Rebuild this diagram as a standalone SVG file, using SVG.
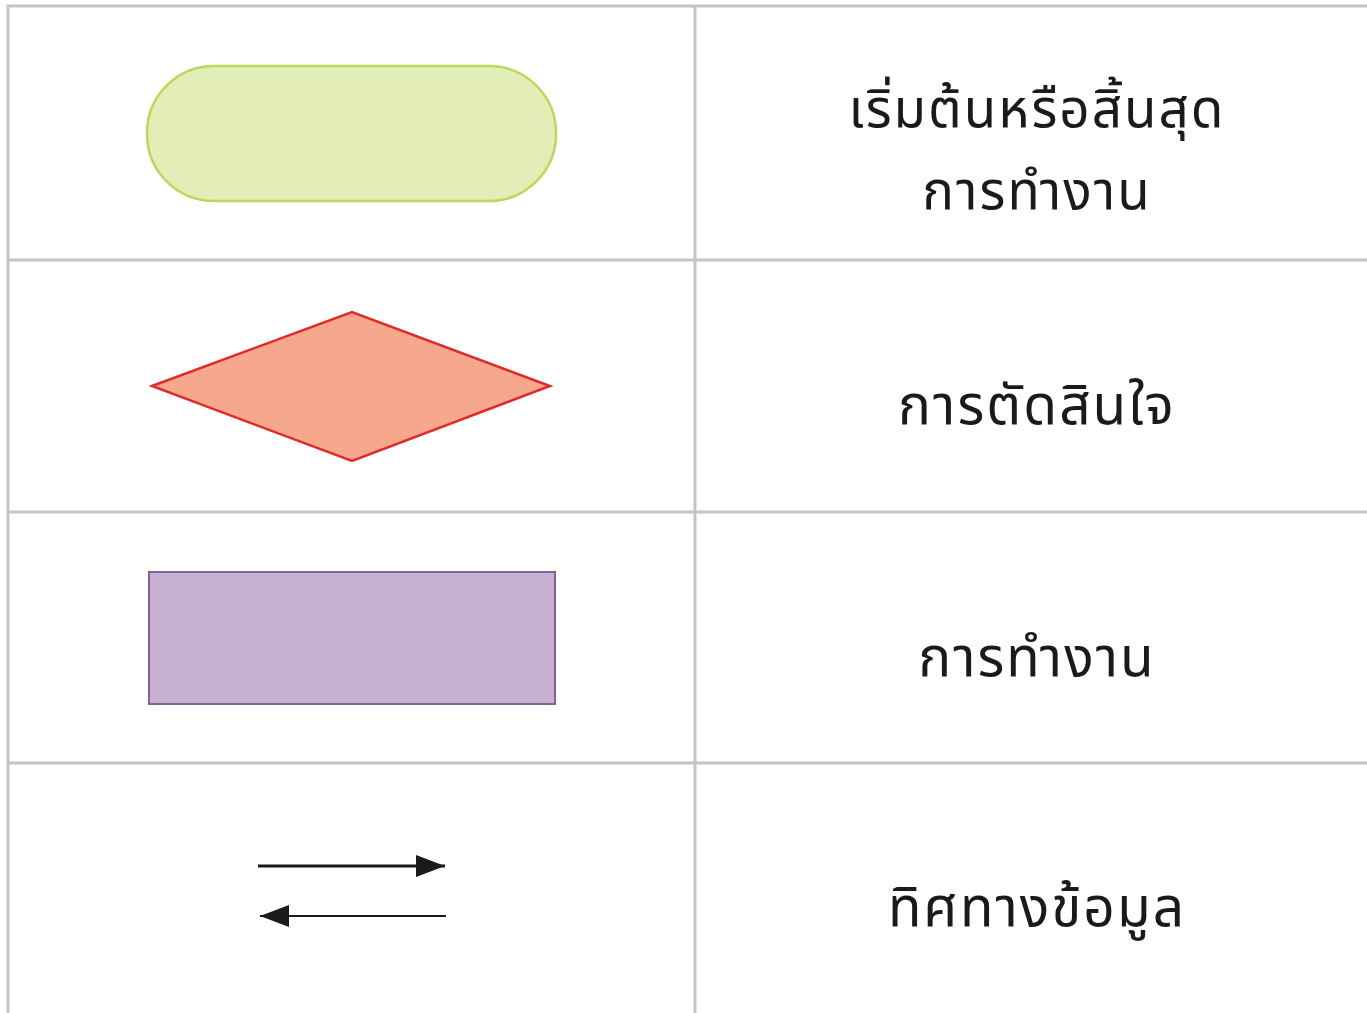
<svg xmlns="http://www.w3.org/2000/svg" width="1367" height="1013" viewBox="0 0 1367 1013">
<style>
.grid{stroke:#c4c4c4;stroke-width:3;fill:none}
.lbl{font-family:"Noto Sans Thai","Noto Sans","Liberation Sans",sans-serif;font-size:55px;letter-spacing:2px;fill:#1a1a1a;text-anchor:middle}
.sm{font-size:53px}
</style>
<defs>
<marker id="ahb" viewBox="0 0 10 10" refX="10" refY="5" markerWidth="29" markerHeight="22" markerUnits="userSpaceOnUse" orient="auto" preserveAspectRatio="none">
<path d="M0,0 L10,5 L0,10 z" fill="#1a1a1a"/>
</marker>
</defs>
<rect width="1367" height="1013" fill="#ffffff"/>
<g id="table">
<path class="grid" d="M1367,6 H8 V1013 M695,6 V1013 M8,260 H1367 M8,512 H1367 M8,763 H1367"/>
</g>
<g id="terminator">
<rect x="147" y="66" width="409" height="135" rx="67" ry="67" fill="#e3edb8" stroke="#bcd75a" stroke-width="2.5"/>
<text class="lbl sm" x="1037" y="127">เริ่มต้นหรือสิ้นสุด</text>
<text class="lbl sm" x="1037" y="209">การทำงาน</text>
</g>
<g id="decision">
<polygon points="152,386 352,312 550,386 352,461" fill="#f7a78c" stroke="#e02a2a" stroke-width="2.5"/>
<text class="lbl" x="1037" y="424">การตัดสินใจ</text>
</g>
<g id="process">
<rect x="149" y="572" width="406" height="132" fill="#c6b1d0" stroke="#8a5f98" stroke-width="2"/>
<text class="lbl" x="1037" y="676">การทำงาน</text>
</g>
<g id="flow-label">
<text class="lbl" x="1037" y="926">ทิศทางข้อมูล</text>
</g>
<g id="connectors">
<line x1="258" y1="866" x2="445" y2="866" stroke="#1a1a1a" stroke-width="3" marker-end="url(#ahb)"/>
<line x1="446" y1="916" x2="260" y2="916" stroke="#1a1a1a" stroke-width="2" marker-end="url(#ahb)"/>
</g>
</svg>
